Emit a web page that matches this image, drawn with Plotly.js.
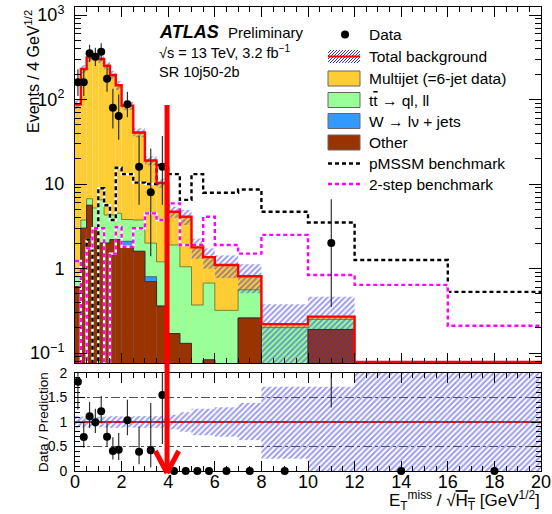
<!DOCTYPE html>
<html>
<head>
<meta charset="utf-8">
<script src="https://cdn.plot.ly/plotly-3.0.1.min.js"></script>
<style>
  html, body { margin: 0; padding: 0; background: #fff; }
  #chart { width: 552px; height: 514px; }
</style>
</head>
<body>
<div id="chart"></div>
<script>
// Bin edges in E_T^miss / sqrt(H_T) [GeV^1/2]
const binEdges = [0, 0.25, 0.5, 0.75, 1, 1.25, 1.5, 1.75, 2, 2.5, 3, 3.5, 4, 4.5, 5, 5.5, 6, 7, 8, 10, 12, 16, 20];

// Observed data (events / 4 GeV^1/2) and Poisson interval errors
const dataVals     = [160, 160, 352, 320, 368, 176, 80, 64, 88, 16, 8, 16, 0, 0, 0, 0, 0, 0, 0, 2, 0, 0];
const dataErrUp    = [68.3, 68.3, 92.3, 88.7, 94.0, 70.7, 54.1, 50.6, 35.3, 21.1, 18.4, 21.1, 0, 0, 0, 0, 0, 0, 0, 4.6, 0, 0];
const dataErrDown  = [49.7, 49.7, 74.5, 70.9, 76.2, 52.2, 34.5, 30.6, 26.1, 10.3, 6.6, 10.3, 0, 0, 0, 0, 0, 0, 0, 1.65, 0, 0];

// Background components (stacked: Other, W+jets, ttbar, Multijet)
const otherBkg    = [0.61, 3.0, 5.6, 2.9, 2.0, 2.0, 2.2, 2.2, 1.8, 1.6, 0.7, 0.36, 0.17, 0.13, 0, 0.083, 0, 0.26, 0, 0.19, 0, 0];
const wjetsBkg    = [0, 0, 0, 0, 0, 0, 0, 0, 0.3, 0, 0.1, 0, 0, 0, 0, 0, 0, 0, 0, 0, 0, 0];
const ttbarBkg    = [0.19, 0.75, 1.1, 2.3, 4.5, 2.3, 2.1, 2.3, 1.7, 2.15, 1.2, 0.84, 1.73, 0.92, 0.37, 0.59, 0.32, 0.30, 0.20, 0.06, 0, 0];
const multijetBkg = [87, 226, 309, 316, 295, 247, 191, 143, 81, 37, 17, 9.1, 2.8, 3.05, 1.41, 0.69, 0.78, 0.25, 0.02, 0.02, 0, 0];

// Relative uncertainty on the total background
const bkgUncUp   = [0.12, 0.11, 0.11, 0.10, 0.11, 0.11, 0.12, 0.12, 0.11, 0.12, 0.12, 0.12, 0.15, 0.20, 0.27, 0.27, 0.30, 0.39, 0.72, 0.72, 1.5, 1.5];
const bkgUncDown = [0.12, 0.11, 0.11, 0.10, 0.11, 0.11, 0.12, 0.12, 0.11, 0.12, 0.12, 0.12, 0.15, 0.20, 0.27, 0.27, 0.30, 0.37, 0.75, 1.0, 1.0, 1.0];

// Signal benchmarks
const pmssmSig   = [0, 0, 2.2, 0, 8.9, 5.6, 3.75, 15.6, 13.1, 10.4, 10.0, 16.8, 13.1, 6.5, 13.1, 7.9, 7.9, 8.6, 4.7, 3.5, 1.26, 0.53];
const twoStepSig = [1.23, 0, 1.73, 3.0, 3.0, 0, 1.5, 3.1, 1.81, 3.0, 4.5, 3.75, 5.9, 1.9, 1.9, 4.1, 1.9, 1.5, 2.5, 0.84, 0.64, 0.21];

// Signal-region cut position
const cutValue = 3.95;

// ---------------------------------------------------------------------------
const nBins = binEdges.length - 1;
const centers = [], widths = [];
for (let i = 0; i < nBins; i++) {
  centers.push((binEdges[i] + binEdges[i + 1]) / 2);
  widths.push(binEdges[i + 1] - binEdges[i]);
}
const cumOther = otherBkg.slice();
const cumW = cumOther.map((v, i) => v + wjetsBkg[i]);
const cumTT = cumW.map((v, i) => v + ttbarBkg[i]);
const total = cumTT.map((v, i) => v + multijetBkg[i]);

const yLogMin = -1.118, yLogMax = 3.095;
const yMin = Math.pow(10, yLogMin);
const nz = a => a.map(v => (v > 0 ? v : null));

function steps(vals, floor) {
  const y = vals.map(v => (v > 0 ? v : floor));
  y.push(y[y.length - 1]);
  return { x: binEdges.slice(), y: y };
}

const FONT = 'Liberation Sans, Arial, Helvetica, sans-serif';
const C_MJ = '#ffcc33', C_TT = '#99ff99', C_W = '#3399ff', C_OT = '#993300';
const HATCH = 'rgb(55,55,225)';
const hatchPattern = { shape: '/', fgcolor: HATCH, bgcolor: 'rgba(0,0,0,0)', size: 4, solidity: 0.5, fillmode: 'overlay' };

const traces = [];
function stackBar(vals, color) {
  return { type: 'bar', x: centers, y: nz(vals), width: widths, xaxis: 'x', yaxis: 'y',
    marker: { color: color, line: { width: 0 } }, hoverinfo: 'skip', showlegend: false };
}
traces.push(stackBar(total, C_MJ));
traces.push(stackBar(cumTT, C_TT));
traces.push(stackBar(cumW, C_W));
traces.push(stackBar(cumOther, C_OT));

// component outlines
[[cumTT, '#5d6b2e'], [cumW, '#404a60'], [cumOther, '#4a2010']].forEach(([vals, col]) => {
  const s = steps(vals, 1e-3);
  traces.push({ type: 'scatter', mode: 'lines', x: s.x, y: s.y, xaxis: 'x', yaxis: 'y',
    line: { shape: 'hv', color: col, width: 0.8 }, hoverinfo: 'skip', showlegend: false });
});

// total background uncertainty band
const bandLo = total.map((t, i) => (t > 0 ? Math.max(t * (1 - bkgUncDown[i]), 1e-3) : null));
const bandHi = total.map((t, i) => (t > 0 ? t * (1 + bkgUncUp[i]) : null));
traces.push({ type: 'bar', x: centers, base: bandLo, y: bandHi.map((h, i) => (h === null ? null : h - bandLo[i])),
  width: widths, xaxis: 'x', yaxis: 'y', marker: { color: 'rgba(0,0,0,0)', line: { width: 0 }, pattern: hatchPattern },
  hoverinfo: 'skip', showlegend: false });

// signal benchmarks: white underlay plus dashed line
[[pmssmSig, '#000000'], [twoStepSig, '#ff00ff']].forEach(([vals, col]) => {
  const s = steps(vals, 1e-3);
  traces.push({ type: 'scatter', mode: 'lines', x: s.x, y: s.y, xaxis: 'x', yaxis: 'y',
    line: { shape: 'hv', color: '#ffffff', width: 2.4 }, hoverinfo: 'skip', showlegend: false });
  traces.push({ type: 'scatter', mode: 'lines', x: s.x, y: s.y, xaxis: 'x', yaxis: 'y',
    line: { shape: 'hv', color: col, width: 2.4, dash: '4px,3px' }, hoverinfo: 'skip', showlegend: false });
});

// total background line
const tl = steps(total, yMin * 1.03);
traces.push({ type: 'scatter', mode: 'lines', x: tl.x, y: tl.y, xaxis: 'x', yaxis: 'y',
  line: { shape: 'hv', color: '#ff0000', width: 2.4 }, hoverinfo: 'skip', showlegend: false });

// data points
traces.push({ type: 'scatter', mode: 'markers', x: centers, y: nz(dataVals), xaxis: 'x', yaxis: 'y',
  marker: { color: '#000', size: 8 },
  error_y: { type: 'data', symmetric: false, array: dataErrUp, arrayminus: dataErrDown, color: '#333', thickness: 1.2, width: 0 },
  hoverinfo: 'skip', showlegend: false });

// ---------------- ratio panel ----------------
const ratio = dataVals.map((d, i) => (total[i] > 0 ? d / total[i] : 0));
const ratioUp = dataErrUp.map((e, i) => (total[i] > 0 && dataVals[i] > 0 ? e / total[i] : 0));
const ratioDown = dataErrDown.map((e, i) => (total[i] > 0 && dataVals[i] > 0 ? e / total[i] : 0));

const rLo = bkgUncDown.map(u => 1 - u);
traces.push({ type: 'bar', x: centers, base: rLo, y: bkgUncUp.map((u, i) => u + bkgUncDown[i]), width: widths,
  xaxis: 'x2', yaxis: 'y2', marker: { color: 'rgba(0,0,0,0)', line: { width: 0 }, pattern: hatchPattern },
  hoverinfo: 'skip', showlegend: false });

traces.push({ type: 'scatter', mode: 'lines', x: [0, 20], y: [1, 1], xaxis: 'x2', yaxis: 'y2',
  line: { color: '#2222aa', width: 1.6 }, hoverinfo: 'skip', showlegend: false });
traces.push({ type: 'scatter', mode: 'lines', x: [0, 20], y: [1, 1], xaxis: 'x2', yaxis: 'y2',
  line: { color: '#ff0000', width: 2, dash: '5px,3px' }, hoverinfo: 'skip', showlegend: false });

// error bars (clipped to the panel)
traces.push({ type: 'scatter', mode: 'markers', x: centers, y: ratio, xaxis: 'x2', yaxis: 'y2', cliponaxis: true,
  marker: { color: 'rgba(0,0,0,0)', size: 1 },
  error_y: { type: 'data', symmetric: false, array: ratioUp, arrayminus: ratioDown, color: '#333', thickness: 1.2, width: 0 },
  hoverinfo: 'skip', showlegend: false });
// markers within range
traces.push({ type: 'scatter', mode: 'markers', x: centers, y: ratio.map(r => (r <= 2 ? r : null)),
  xaxis: 'x2', yaxis: 'y2', cliponaxis: false, marker: { color: '#000', size: 8 }, hoverinfo: 'skip', showlegend: false });

// ---------------- layout ----------------
const W = 552, H = 514, mL = 75, mR = 11, mT = 7, mB = 43;
const pw = W - mL - mR, ph = H - mT - mB;
const px = x => (x - mL) / pw;
const py = y => (H - mB - y) / ph;

const minorLog = [];
for (let e = -2; e <= 3; e++) for (let m = 2; m <= 9; m++) {
  const v = m * Math.pow(10, e);
  if (Math.log10(v) > yLogMin && Math.log10(v) < yLogMax) minorLog.push(v);
}

const axBase = { showline: true, linecolor: '#000', linewidth: 1, mirror: 'allticks', ticks: 'inside',
  tickcolor: '#000', showgrid: false, zeroline: false, tickfont: { family: FONT, size: 18, color: '#000' } };

const shapes = [];
const annotations = [];

// ratio grid lines
[0.5, 1.5].forEach(v => shapes.push({ type: 'line', xref: 'x2', yref: 'y2', x0: 0, x1: 20, y0: v, y1: v,
  line: { color: '#555', width: 1, dash: 'dashdot' }, layer: 'below' }));

// cut arrow
const arrowTop = py(105), arrowTip = py(473), wingY = py(451);
shapes.push({ type: 'line', xref: 'x', yref: 'paper', x0: cutValue, x1: cutValue, y0: arrowTop, y1: arrowTip + 0.004,
  line: { color: '#ff0000', width: 5 } });
shapes.push({ type: 'line', xref: 'x', yref: 'paper', x0: cutValue - 0.5, x1: cutValue, y0: wingY, y1: arrowTip,
  line: { color: '#ff0000', width: 5 } });
shapes.push({ type: 'line', xref: 'x', yref: 'paper', x0: cutValue + 0.5, x1: cutValue, y0: wingY, y1: arrowTip,
  line: { color: '#ff0000', width: 5 } });

// legend
const lx0 = 328, lx1 = 360, tx = 367;
const rowY = [34.5, 56.5, 78.5, 100, 121, 142.5, 163.5, 184];
const legText = ['Data', 'Total background', 'Multijet (=6-jet data)',
  't<span style="text-decoration:overline">t</span> \u2192 ql, ll',
  'W \u2192 l\u03bd + jets', 'Other', 'pMSSM benchmark', '2-step benchmark'];
legText.forEach((t, i) => annotations.push({ xref: 'paper', yref: 'paper', x: px(tx), y: py(rowY[i]),
  xanchor: 'left', yanchor: 'middle', showarrow: false, text: t, font: { family: FONT, size: 15.5, color: '#000' } }));

shapes.push({ type: 'circle', xref: 'paper', yref: 'paper', x0: px(341), x1: px(349), y0: py(rowY[0] + 4), y1: py(rowY[0] - 4),
  fillcolor: '#000', line: { width: 0 } });
// hatched box for total background
{
  const yb = rowY[1] + 6.5, yt = rowY[1] - 6.5, h = yb - yt;
  for (let s = lx0 - h; s < lx1; s += 3) {
    let xa = s, ya = yb, xb = s + h, yb2 = yt;
    if (xa < lx0) { ya = yb - (lx0 - xa); xa = lx0; }
    if (xb > lx1) { yb2 = yt + (xb - lx1); xb = lx1; }
    if (xb <= xa) continue;
    shapes.push({ type: 'line', xref: 'paper', yref: 'paper', x0: px(xa), x1: px(xb), y0: py(ya), y1: py(yb2),
      line: { color: HATCH, width: 1 } });
  }
  shapes.push({ type: 'line', xref: 'paper', yref: 'paper', x0: px(lx0), x1: px(lx1), y0: py(rowY[1]), y1: py(rowY[1]),
    line: { color: '#ff0000', width: 2 } });
}
[[2, C_MJ], [3, C_TT], [4, C_W], [5, C_OT]].forEach(([r, col]) => shapes.push({ type: 'rect', xref: 'paper', yref: 'paper',
  x0: px(lx0), x1: px(lx1), y0: py(rowY[r] + 7.5), y1: py(rowY[r] - 7.5), fillcolor: col, line: { color: '#666', width: 1 } }));
[[6, '#000000'], [7, '#ff00ff']].forEach(([r, col]) => shapes.push({ type: 'line', xref: 'paper', yref: 'paper',
  x0: px(lx0), x1: px(lx1), y0: py(rowY[r]), y1: py(rowY[r]), line: { color: col, width: 2.4, dash: '4px,3px' } }));

// experiment labels
annotations.push({ xref: 'paper', yref: 'paper', x: px(157), y: py(32), xanchor: 'left', yanchor: 'middle', showarrow: false,
  text: '<b><i>ATLAS</i></b>', font: { family: FONT, size: 18, color: '#000' } });
annotations.push({ xref: 'paper', yref: 'paper', x: px(226), y: py(32), xanchor: 'left', yanchor: 'middle', showarrow: false,
  text: 'Preliminary', font: { family: FONT, size: 15, color: '#000' } });
annotations.push({ xref: 'paper', yref: 'paper', x: px(157), y: py(52), xanchor: 'left', yanchor: 'middle', showarrow: false,
  text: '\u221As = 13 TeV, 3.2 fb<sup>\u22121</sup>', font: { family: FONT, size: 14.5, color: '#000' } });
annotations.push({ xref: 'paper', yref: 'paper', x: px(157), y: py(72), xanchor: 'left', yanchor: 'middle', showarrow: false,
  text: 'SR 10j50-2b', font: { family: FONT, size: 14.5, color: '#000' } });

// axis titles
annotations.push({ xref: 'paper', yref: 'paper', x: px(32), y: py(72), xanchor: 'center', yanchor: 'middle', showarrow: false,
  textangle: -90, text: 'Events / 4 GeV<sup>1/2</sup>', font: { family: FONT, size: 16, color: '#000' } });
annotations.push({ xref: 'paper', yref: 'paper', x: px(43), y: py(422), xanchor: 'center', yanchor: 'middle', showarrow: false,
  textangle: -90, text: 'Data / Prediction', font: { family: FONT, size: 13.5, color: '#000' } });
annotations.push({ xref: 'paper', yref: 'paper', x: px(542), y: py(500), xanchor: 'right', yanchor: 'middle', showarrow: false,
  text: 'E<sub>T</sub><sup>miss</sup> / \u221A<span style="text-decoration:overline">H<sub>T</sub></span> [GeV<sup>1/2</sup>]',
  font: { family: FONT, size: 17, color: '#000' } });

const layout = {
  width: W, height: H,
  margin: { l: mL, r: mR, t: mT, b: mB, pad: 0 },
  paper_bgcolor: '#fff', plot_bgcolor: '#fff',
  barmode: 'overlay', showlegend: false,
  font: { family: FONT, color: '#000' },
  xaxis: Object.assign({}, axBase, { domain: [0, 1], anchor: 'y', range: [0, 20], dtick: 2, tick0: 0, ticklen: 10,
    showticklabels: false, minor: { dtick: 0.5, ticklen: 5, ticks: 'inside', tickcolor: '#000' } }),
  yaxis: Object.assign({}, axBase, { domain: [py(363), 1], anchor: 'x', type: 'log', range: [yLogMin, yLogMax],
    tickmode: 'array', tickvals: [0.1, 1, 10, 100, 1000],
    ticktext: ['10<sup>\u22121</sup>', '1', '10', '10<sup>2</sup>', '10<sup>3</sup>'], ticklen: 12, ticklabelstandoff: 6,
    minor: { tickmode: 'array', tickvals: minorLog, ticklen: 6, ticks: 'inside', tickcolor: '#000' } }),
  xaxis2: Object.assign({}, axBase, { domain: [0, 1], anchor: 'y2', range: [0, 20], dtick: 2, tick0: 0, ticklen: 10,
    ticklabelstandoff: -6,
    minor: { dtick: 0.5, ticklen: 5, ticks: 'inside', tickcolor: '#000' } }),
  yaxis2: Object.assign({}, axBase, { domain: [0, py(373)], anchor: 'x2', range: [0, 2], dtick: 0.5, tick0: 0, ticklen: 10,
    ticklabelstandoff: 4, tickfont: { family: FONT, size: 14, color: '#000' },
    minor: { dtick: 0.1, ticklen: 5, ticks: 'inside', tickcolor: '#000' } }),
  shapes: shapes,
  annotations: annotations
};

Plotly.newPlot('chart', traces, layout, { staticPlot: true, displayModeBar: false });
</script>
</body>
</html>
